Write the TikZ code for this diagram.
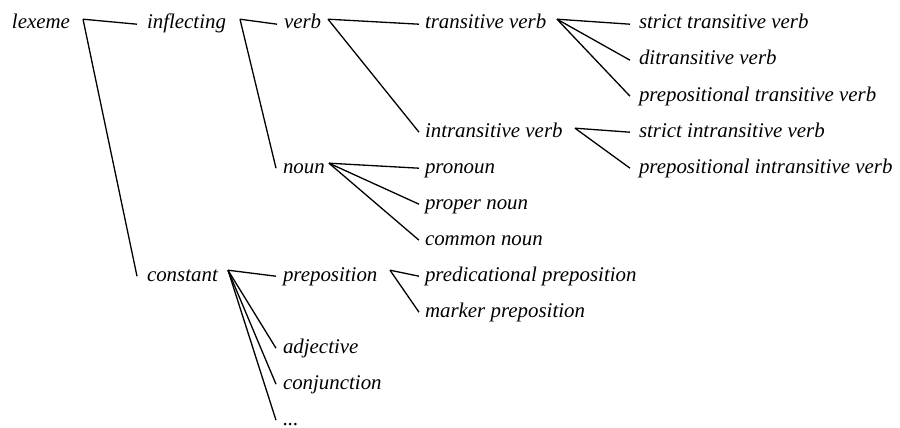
\documentclass[tikz,border=0pt]{standalone}
\usepackage{fontspec}
\setmainfont{Liberation Serif}
\begin{document}
\begin{tikzpicture}[x=1pt, y=-1pt,
  every node/.style={font=\fontsize{20.9}{25}\selectfont\itshape,
    inner xsep=0pt, inner ysep=0pt, text height=9.6pt, text depth=0pt,
    anchor=text},
  lvlone/.style={outer xsep=0pt},
  lvltwo/.style={outer xsep=10pt},
  lvlthree/.style={outer xsep=7pt},
  lvlfour/.style={outer xsep=6pt},
  lvlfive/.style={outer xsep=9pt},
  branch/.style={line width=1.3pt, line join=miter}]
\useasboundingbox (0,0) rectangle (900,428);

% labels, one row every 36 units (baseline = 29 + 36 r)
\node[lvlone]   (lexeme)   at (12,29)   {lexeme};
\node[lvltwo]   (infl)     at (147,29)  {inflecting};
\node[lvltwo]   (const)    at (147,281) {constant};
\node[lvlthree] (verb)     at (284,29)  {verb};
\node[lvlthree] (noun)     at (283,173) {noun};
\node[lvlthree] (prep)     at (283,281) {preposition};
\node[lvlthree] (adj)      at (283,353) {adjective};
\node[lvlthree] (conj)     at (283,389) {conjunction};
\node[lvlthree] (etc)      at (283,425) {...};
\node[lvlfour]  (trans)    at (425,29)  {transitive verb};
\node[lvlfour]  (intrans)  at (425,137) {intransitive verb};
\node[lvlfour]  (pron)     at (425,173) {pronoun};
\node[lvlfour]  (propn)    at (425,209) {proper noun};
\node[lvlfour]  (commn)    at (425,245) {common noun};
\node[lvlfour]  (predp)    at (425,281) {predicational preposition};
\node[lvlfour]  (markp)    at (425,317) {marker preposition};
\node[lvlfive]  (strtr)    at (639,29)  {strict transitive verb};
\node[lvlfive]  (ditr)     at (639,65)  {ditransitive verb};
\node[lvlfive]  (preptr)   at (639,101) {prepositional transitive verb};
\node[lvlfive]  (strin)    at (639,137) {strict intransitive verb};
\node[lvlfive]  (prepin)   at (639,173) {prepositional intransitive verb};

% fork points to the right of each parent label
\coordinate (lexeme-f)  at (83,24);
\coordinate (infl-f)    at (240,24);
\coordinate (const-f)   at (228,275);
\coordinate (verb-f)    at (328,24);
\coordinate (noun-f)    at (329,168);
\coordinate (prep-f)    at (390,275);
\coordinate (trans-f)   at (557,24);
\coordinate (intrans-f) at (575,133);

\foreach \p/\c in {lexeme/infl, lexeme/const,
                   infl/verb, infl/noun,
                   const/prep, const/adj, const/conj, const/etc,
                   verb/trans, verb/intrans,
                   noun/pron, noun/propn, noun/commn,
                   prep/predp, prep/markp,
                   trans/strtr, trans/ditr, trans/preptr,
                   intrans/strin, intrans/prepin}
  \draw[branch] (\p-f) -- (\c.west);
\end{tikzpicture}
\end{document}
